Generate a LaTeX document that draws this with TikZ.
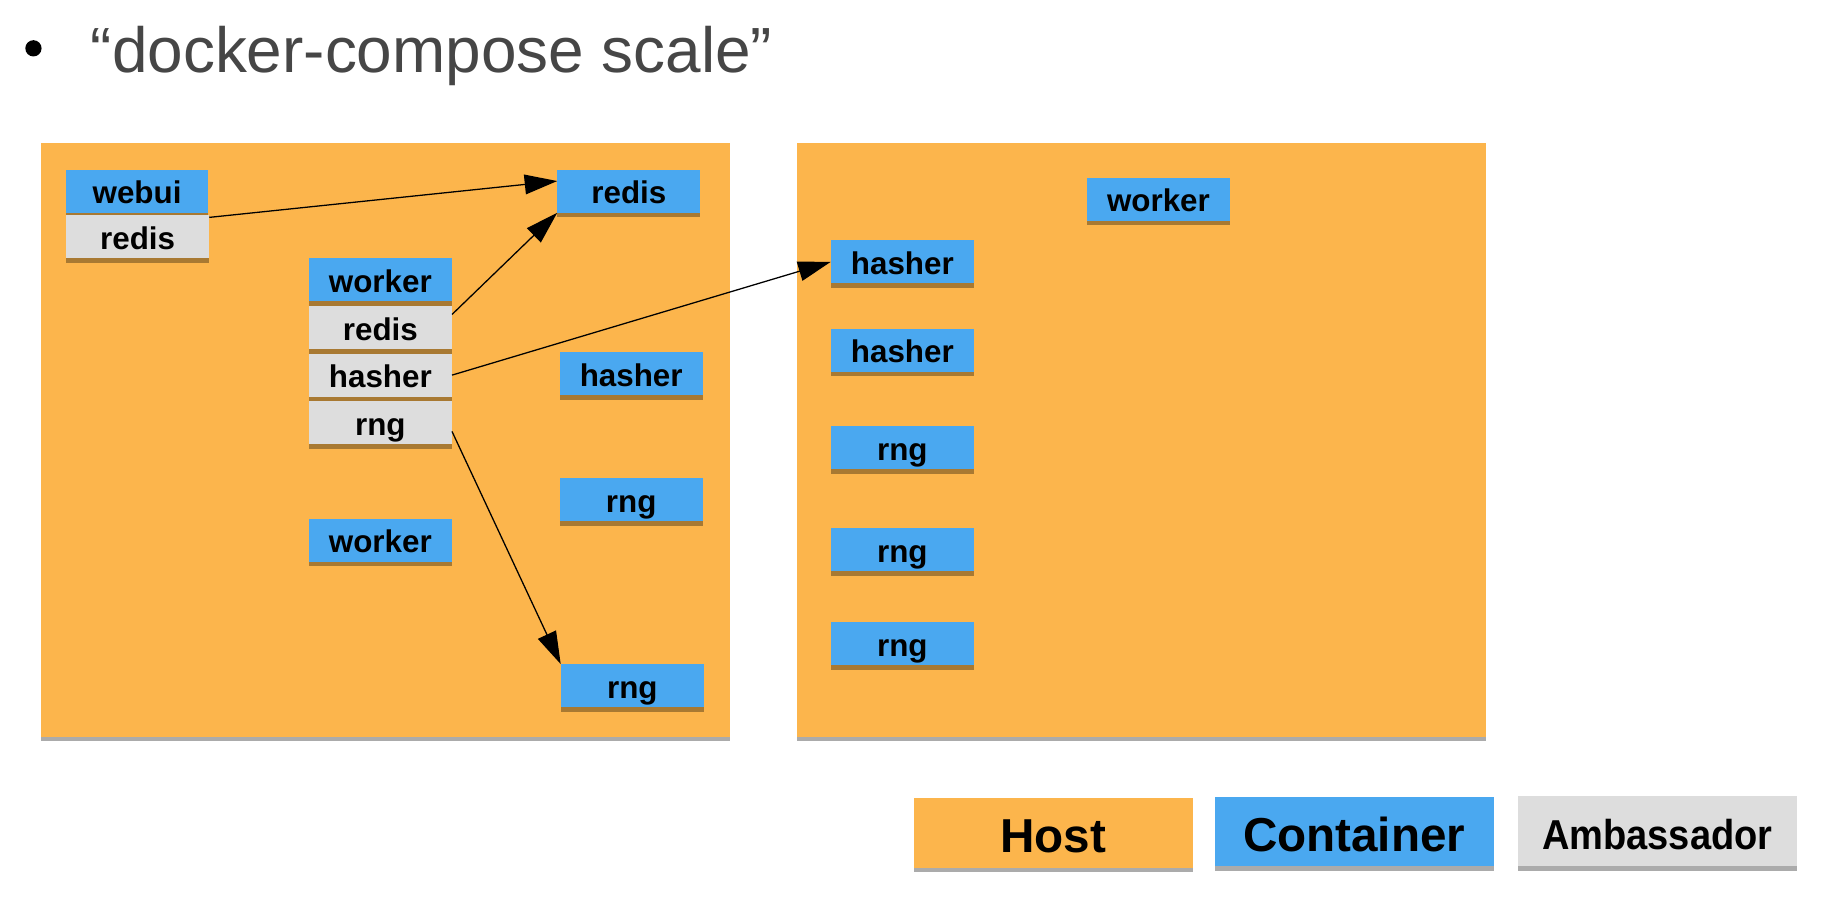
\documentclass[tikz,border=0pt]{standalone}
\usepackage{fontspec}
\usepackage{graphicx}
\setmainfont{Liberation Sans}
\usetikzlibrary{arrows.meta,shadows,calc}
\definecolor{hostc}{RGB}{252,181,76}
\definecolor{contc}{RGB}{74,168,240}
\definecolor{ambc}{RGB}{221,221,221}
\definecolor{titlec}{RGB}{70,70,70}
\tikzset{
  shad/.style={drop shadow={shadow xshift=0pt,shadow yshift=-4pt,opacity=0.33,fill=black}},
  hostbox/.style={fill=hostc,draw=none,shad,minimum width=593pt,minimum height=511pt,inner sep=0pt},
  cbox/.style={fill=contc,draw=none,shad,minimum width=123pt,minimum height=37pt,inner sep=0pt,
    text height=29.5pt,text depth=7.5pt,
    font=\fontsize{27}{30}\selectfont\bfseries},
  abox/.style={cbox,fill=ambc},
  legbox/.style={draw=none,shad,minimum width=240pt,minimum height=60pt,inner sep=0pt,
    text height=47.4pt,text depth=12.6pt},
  conn/.style={line width=1.1pt,-{Triangle[length=28pt,width=17pt]}},
}
\begin{document}
\begin{tikzpicture}[x=1pt,y=-1pt]
\useasboundingbox (0,0) rectangle (1568,772);
% title
\node[circle,fill=black,inner sep=0pt,minimum size=14pt] (bul) at (28.8,41.6) {};
\node[anchor=base west,text=titlec,font=\fontsize{55}{60}\selectfont,inner sep=0pt] (title) at (78,62.6) {“docker-compose scale”};
% hosts
\node[hostbox,anchor=north west] (h1) at (35,123) {};
\node[hostbox,anchor=north west] (h2) at (686,123) {};
% host 1
\node[cbox] (webui) at (118,164.5) {webui};
\node[abox] (ra1) at (118.5,204) {redis};
\node[cbox] (redis) at (541.5,164.5) {redis};
\node[cbox] (worker1) at (327.5,241) {worker};
\node[abox] (ra2) at (327.5,282) {redis};
\node[abox] (ha) at (327.5,323) {hasher};
\node[abox] (rga) at (327.5,364) {rng};
\node[cbox] (hasher1) at (543.5,322) {hasher};
\node[cbox] (rng1) at (543.5,430.5) {rng};
\node[cbox] (worker2) at (327.5,465) {worker};
\node[cbox] (rng2) at (544.5,590.5) {rng};
% host 2
\node[cbox] (worker3) at (997.5,171.5) {worker};
\node[cbox] (hasher2) at (777,225.5) {hasher};
\node[cbox] (hasher3) at (777,301.5) {hasher};
\node[cbox] (rng3) at (777,385.5) {rng};
\node[cbox] (rng4) at (777,473.5) {rng};
\node[cbox] (rng5) at (777,554.5) {rng};
% connectors
\draw[conn] ($(ra1.north east)!0.05!(ra1.south east)$) -- ($(redis.north west)!0.27!(redis.south west)$);
\draw[conn] ($(ra2.north east)!0.2!(ra2.south east)$) -- (redis.south west);
\draw[conn] (ha.east) -- (hasher2.west);
\draw[conn] ($(rga.north east)!0.7!(rga.south east)$) -- (rng2.north west);
% legend
\node[legbox,fill=hostc,font=\fontsize{41}{46}\selectfont\bfseries] (lhost) at (907,717) {Host};
\node[legbox,fill=contc,font=\fontsize{41}{46}\selectfont\bfseries] (lcont) at (1166,716) {Container};
\node[legbox,fill=ambc,font=\fontsize{36}{40}\selectfont\bfseries,text height=45.3pt,text depth=14.7pt] (lamb) at (1427,715.8) {\scalebox{0.91}[1]{Ambassador}};
\end{tikzpicture}
\end{document}
